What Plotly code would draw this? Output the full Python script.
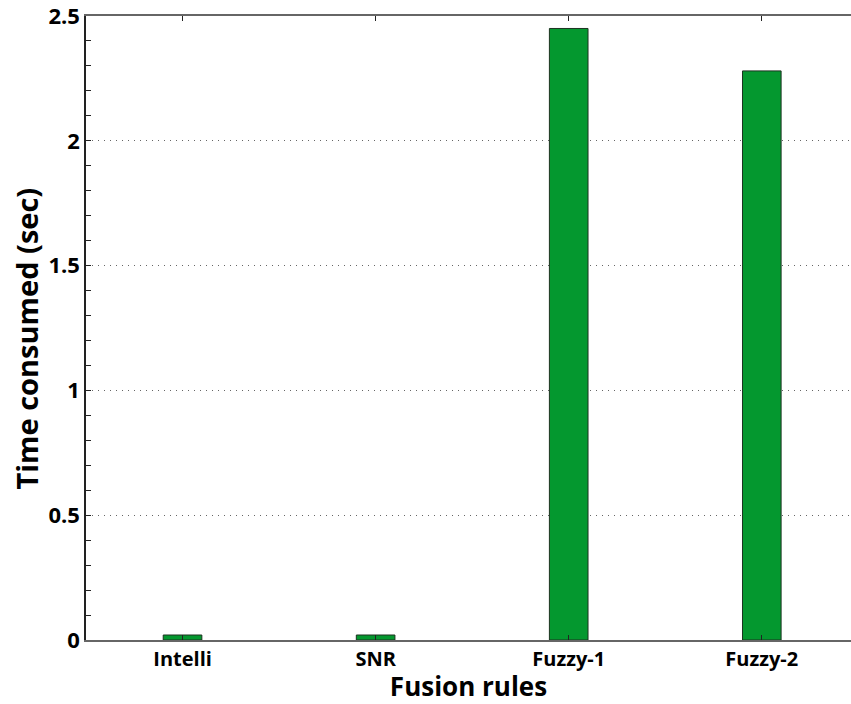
import plotly.graph_objects as go

# Time taken by each fusion rule
rules = ["Intelli", "SNR", "Fuzzy-1", "Fuzzy-2"]
time_sec = [0.02, 0.02, 2.45, 2.28]
y_ticks = [0, 0.5, 1, 1.5, 2, 2.5]
y_tick_text = ["0", "0.5", "1", "1.5", "2", "2.5"]
y_title = "Time consumed (sec)"
x_title = "Fusion rules"

font_family = "Open Sans, Noto Sans, sans-serif"

fig = go.Figure(
    go.Bar(
        x=list(range(1, len(rules) + 1)),
        y=time_sec,
        width=0.2,
        marker=dict(color="#04982f", line=dict(color="#1c3320", width=1)),
    )
)

fig.update_layout(
    width=851,
    height=704,
    margin=dict(l=86, r=0, t=14, b=64),
    plot_bgcolor="white",
    paper_bgcolor="white",
    showlegend=False,
    font=dict(family=font_family, color="black"),
)

fig.update_xaxes(
    range=[0.5, 4.462],
    tickvals=list(range(1, len(rules) + 1)),
    ticktext=rules,
    tickfont=dict(size=20, weight="bold"),
    ticks="inside",
    ticklen=5,
    tickcolor="#222",
    showline=True,
    linecolor="#666",
    linewidth=2,
    mirror="ticks",
    showgrid=False,
    zeroline=False,
    title=dict(text=x_title, font=dict(size=26, weight="bold"), standoff=2),
)

fig.update_yaxes(
    range=[0, 2.5],
    tickvals=y_ticks,
    ticktext=y_tick_text,
    tickfont=dict(size=22, weight="bold"),
    ticklabeloverflow="allow",
    ticks="inside",
    ticklen=5,
    tickcolor="#222",
    minor=dict(dtick=0.1, ticks="inside", ticklen=5, tickcolor="#222", showgrid=False),
    showline=True,
    linecolor="#222",
    linewidth=1.5,
    mirror=False,
    showgrid=True,
    gridcolor="#666",
    griddash="1px,5px",
    gridwidth=1,
    zeroline=False,
)

# Vertical axis title, placed as a rotated annotation left of the tick labels
fig.add_annotation(
    text=y_title,
    textangle=-90,
    xref="paper",
    yref="paper",
    x=0,
    y=0.483,
    xanchor="center",
    yanchor="middle",
    xshift=-59,
    showarrow=False,
    font=dict(size=29, weight="bold", family=font_family, color="black"),
)

fig.write_html("out.html")
